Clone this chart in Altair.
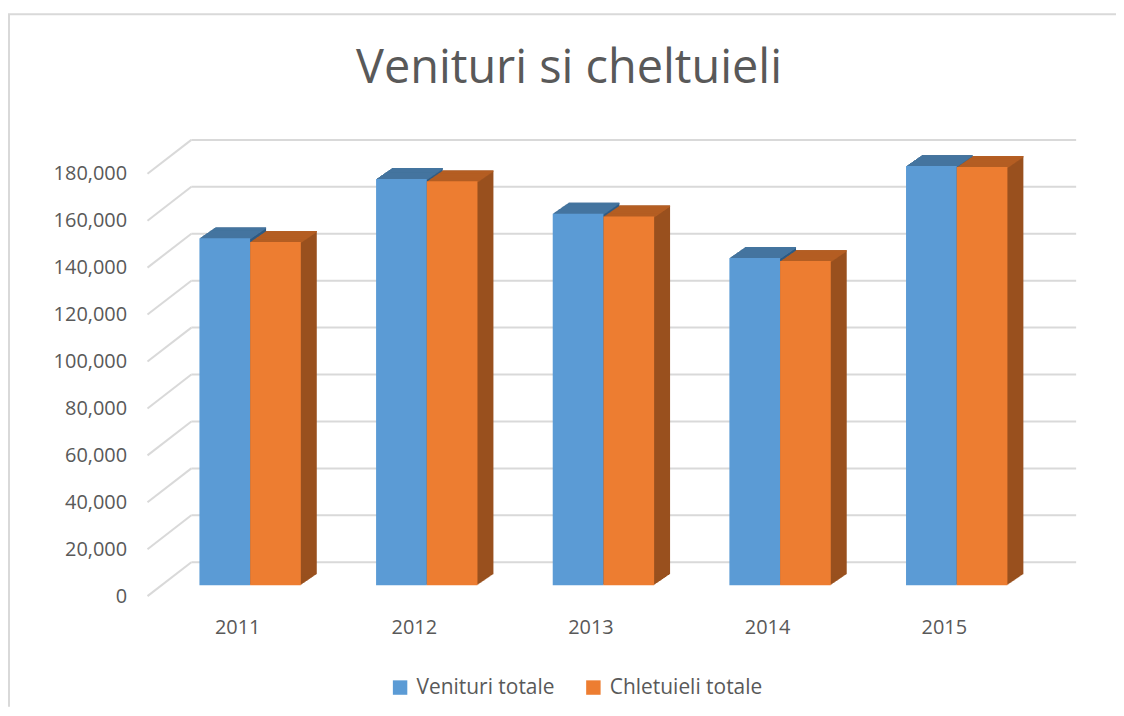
import altair as alt
import pandas as pd

# ---- data ----
years = ["2011", "2012", "2013", "2014", "2015"]
venituri = [147800, 173100, 158300, 139400, 178600]
cheltuieli = [146300, 172100, 157100, 138100, 178200]
series = ["Venituri totale", "Chletuieli totale"]
y_ticks = [0, 20000, 40000, 60000, 80000, 100000, 120000, 140000, 160000, 180000]

# ---- styles ----
front_colors = ["#5B9BD5", "#ED7D31"]
top_colors = ["#44759F", "#B45E23"]
side_colors = ["#2E5A82", "#99501E"]
GRID = "#D9D9D9"
TXT = "#595959"
FONT = "Open Sans"
BAR_W = 0.287          # bar width in category units
DX, DY = 16, 11        # 3D depth of bars (px)
N = 16                 # extrusion steps
BACK_DX, BACK_DY = 44, 23

rows = []
for i, yr in enumerate(years):
    for s, vals in enumerate([venituri, cheltuieli]):
        rows.append(dict(year=yr, idx=i, serie=series[s], value=vals[i],
                         x0=i + (s - 1) * BAR_W, x1=i + s * BAR_W,
                         top=top_colors[s], side=side_colors[s]))
df = pd.DataFrame(rows)
grid_df = pd.DataFrame({"v": y_ticks})
one = pd.DataFrame({"a": [0]})

W, H = 932, 471
xs = alt.Scale(domain=[-0.581, 4.676], nice=False, zero=False)
ys = alt.Scale(domain=[0, 200000], nice=False, zero=True)

label_expr = "[" + ",".join("'%s'" % y for y in years) + "][datum.value]"
x_axis = alt.Axis(values=list(range(len(years))), labelExpr=label_expr, grid=False,
                  domain=False, ticks=False, tickSize=0, labelFontSize=20, labelFont=FONT,
                  labelColor=TXT, labelPadding=32, labelOffset=-13, title=None,
                  labelFlush=False, labelOverlap=False)
y_axis = alt.Axis(values=y_ticks, labelExpr="format(datum.value, ',')", grid=False,
                  domain=False, ticks=False, tickSize=0, labelFontSize=20, labelFont=FONT,
                  labelColor=TXT, labelPadding=21, labelOffset=11, title=None,
                  labelOverlap=False)

# frame (top and left edges)
frame_top = alt.Chart(one).mark_rule(color=GRID, strokeWidth=2).encode(
    x=alt.value(-140), x2=alt.value(W + 40), y=alt.value(-102))
frame_left = alt.Chart(one).mark_rule(color=GRID, strokeWidth=2).encode(
    x=alt.value(-139), y=alt.value(-102), y2=alt.value(H + 122))

# title
title = alt.Chart(one).mark_text(text="Venituri si cheltuieli", fontSize=47, font=FONT,
                                 color=TXT, align="center", baseline="alphabetic").encode(
    x=alt.value(423), y=alt.value(-33))

# back wall gridlines and floor diagonals
back_grid = alt.Chart(grid_df).mark_rule(color=GRID, strokeWidth=2, yOffset=-BACK_DY).encode(
    y=alt.Y("v:Q", scale=ys, axis=y_axis), x=alt.value(BACK_DX), x2=alt.value(W))
diag = alt.Chart(grid_df).mark_rule(color=GRID, strokeWidth=2, yOffset=11,
                                    y2Offset=-BACK_DY).encode(
    y=alt.Y("v:Q", scale=ys, axis=y_axis), y2="v:Q", x=alt.value(0), x2=alt.value(BACK_DX))

base = alt.Chart(df)
layers = [frame_top, frame_left, title, back_grid, diag]


def shifted(k):
    ox, oy = k * DX / N, -k * DY / N
    return dict(xOffset=ox, x2Offset=ox, yOffset=oy, y2Offset=oy)


# side extrusion
for k in range(1, N + 1):
    layers.append(base.mark_bar(**shifted(k)).encode(
        x=alt.X("x0:Q", scale=xs, axis=x_axis), x2="x1:Q",
        y=alt.Y("value:Q", scale=ys, axis=y_axis, stack=None), y2=alt.datum(0),
        fill=alt.Fill("side:N", scale=None)))
# top faces
for k in range(1, N + 1):
    layers.append(base.transform_calculate(vlow="datum.value - 600").mark_bar(
        **shifted(k)).encode(
        x=alt.X("x0:Q", scale=xs, axis=x_axis), x2="x1:Q",
        y=alt.Y("value:Q", scale=ys, axis=y_axis, stack=None), y2="vlow:Q",
        fill=alt.Fill("top:N", scale=None)))

# front faces
front = base.mark_bar().encode(
    x=alt.X("x0:Q", scale=xs, axis=x_axis), x2="x1:Q",
    y=alt.Y("value:Q", scale=ys, axis=y_axis, stack=None), y2=alt.datum(0),
    color=alt.Color("serie:N", scale=alt.Scale(domain=series, range=front_colors),
                    legend=alt.Legend(title=None, orient="none", legendX=243, legendY=563,
                                      direction="horizontal", symbolType="square",
                                      symbolSize=210, symbolStrokeWidth=0,
                                      labelFontSize=21, labelFont=FONT, labelColor=TXT,
                                      columnPadding=28, labelOffset=6)),
    tooltip=["year:N", "serie:N", alt.Tooltip("value:Q", format=",")])
layers.append(front)

chart = alt.layer(*layers).properties(
    width=W, height=H,
    autosize=alt.AutoSizeParams(type="none"),
    padding={"left": 140, "top": 107, "right": 40, "bottom": 122},
    background="white",
).configure_view(stroke=None)

chart.save("out.html", embed_options={"renderer": "svg", "actions": False})
